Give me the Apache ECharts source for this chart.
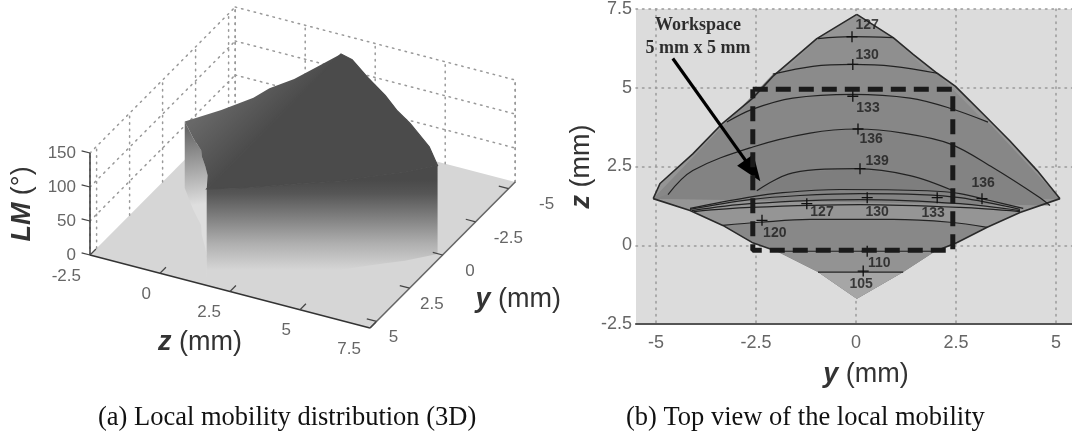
<!DOCTYPE html>
<html><head><meta charset="utf-8">
<style>html,body{margin:0;padding:0;background:#fff}#c{width:1072px;height:439px;filter:blur(0.4px)}</style>
<script src="https://cdn.jsdelivr.net/npm/echarts@6/dist/echarts.min.js"></script>
</head><body><div id="c"></div>
<script>
// ---------- data: region boundary [y, z] in mm ----------
const outlineUpperRight = [[0.02,7.33],[0.93,6.59],[1.43,6.06],[2.03,5.46],[2.48,5.05],[3.28,4.04],[3.85,3.31],[4.53,2.37],[5.1,1.48]];
const outlineUpperLeft  = [[-5.07,1.48],[-4.9,1.96],[-4.08,2.9],[-3.33,3.88],[-2.58,4.67],[-2.08,5.36],[-0.98,6.56],[0.02,7.33]];
const outlineLowerRight = [[5.1,1.48],[4.1,1.04],[3.28,0.57],[2.53,0.09],[1.98,-0.19],[1.18,-0.85],[0.02,-1.7]];
const outlineLowerLeft  = [[0.02,-1.7],[-0.95,-0.85],[-1.98,-0.19],[-2.6,0.09],[-3.33,0.63],[-4.15,1.10],[-5.07,1.48]];
// LM height (deg) along the same boundary points
const lmUpperRight = [130,130,130,131,131,132,132,132,132];
const lmUpperLeft  = [132,132,132,131,131,130,130,130];
const lmLowerRight = [132,128,120,115,110,105,98];
const lmLowerLeft  = [98,105,110,115,120,128,132];
// ---------- data: contour lines [y, z] ----------
const c127 = [[-0.95,6.56],[-0.12,6.62],[0.93,6.59]];
const c130 = [[-2.08,5.43],[-1.08,5.68],[-0.08,5.74],[0.93,5.68],[2.03,5.46]];
const c133 = [[-3.23,3.91],[-2.58,4.32],[-1.58,4.67],[-0.08,4.79],[1.35,4.67],[2.35,4.35],[3.3,3.91]];
const c136 = [[-4.7,1.61],[-4.08,2.37],[-2.58,3.12],[-1.15,3.56],[0.02,3.69],[1.18,3.56],[2.35,3.22],[3.43,2.46],[4.6,1.51],[4.85,1.26]];
const c139 = [[-2.48,1.73],[-1.58,2.3],[0.02,2.43],[1.35,2.21],[2.43,1.73]];
const c136b = [[-4.15,1.17],[-2.73,1.51],[-1.83,1.67],[-0.4,1.77],[1.78,1.73],[2.6,1.64],[3.35,1.42],[4.18,1.17]];
const c133b = [[-4.15,1.14],[-2.65,1.45],[-1.4,1.58],[0.1,1.64],[1.6,1.61],[2.6,1.51],[4.1,1.14]];
const c130b = [[-4.1,1.10],[-2.65,1.32],[0.1,1.45],[2.6,1.32],[4.1,1.10]];
const c127b = [[-4.05,1.07],[-2.65,1.2],[0.1,1.29],[2.6,1.2],[4.1,1.07]];
const c120 = [[-3.33,0.63],[-2.4,0.73],[-1.15,0.82],[0.93,0.82],[2.35,0.73],[3.28,0.57]];
const c110 = [[-1.98,-0.19],[1.98,-0.19]];
const c105 = [[-0.95,-0.85],[1.18,-0.85]];
// ---------- data: contour marks and labels ----------
const plusMarks = [[-0.1,6.62],[-0.08,5.74],[-0.08,4.73],[0.05,3.69],[0.1,2.43],[3.15,1.48],[-1.23,1.32],[0.28,1.51],[2.03,1.51],[-2.35,0.79],[0.28,-0.19],[0.18,-0.82]];
const contourLabels = [[0.28,7.0,'127'],[0.28,6.03,'130'],[0.3,4.35,'133'],[0.38,3.38,'136'],[0.53,2.68,'139'],[3.18,1.96,'136'],[-0.85,1.04,'127'],[0.53,1.04,'130'],[1.93,1.01,'133'],[-2.03,0.38,'120'],[0.58,-0.57,'110'],[0.13,-1.23,'105']];
const workspaceRect = [[-2.58,4.95],[2.42,4.95],[2.42,-0.16],[-2.58,-0.16],[-2.58,4.95]];
const arrowFrom = [-4.58,5.93], arrowTo = [-2.58,2.37];
const workspaceText = [[-3.95,6.99,'Workspace'],[-3.95,6.26,'5 mm x 5 mm']];
// ---------- data: 3D axes ----------
const zTicks3d = [-2.5,0,2.5,5,7.5];
const yTicks3d = [-5,-2.5,0,2.5,5];
const lmTicks3d = [0,50,100,150];
const yTicksTop = [-5,-2.5,0,2.5,5];

// oblique view of the 3D panel: (z, y, LM) -> hidden cartesian plane
const uOf = (z,y) => 28*z - 13.2*y;
const vOf = (z,y,lm) => -(7.3*z + 13.27*y) + 0.68*lm;
const zA = -2.5, zB = 7.5, yA = -5.5, yB = 5.5;
const fontSans = '"Liberation Sans", Arial, sans-serif';
const grey = (a,b,x1,y1,x2,y2) => ({type:'linear',global:true,x:x1,y:y1,x2:x2,y2:y2,colorStops:[{offset:0,color:a},{offset:1,color:b}]});
const wallFront = {type:'linear',global:true,x:0,y:180,x2:0,y2:270,colorStops:[{offset:0,color:'#4a4a4a'},{offset:0.15,color:'#565656'},{offset:0.4,color:'#7d7d7d'},{offset:0.7,color:'#aeaeae'},{offset:1,color:'#d6d6d6'}]};

const scene = [];
const poly = (pts,fill,stroke) => scene.push({k:'poly',pts,fill,stroke});
const seg = (a,b,stroke,w,dash) => scene.push({k:'seg',a,b,stroke,w,dash});
const txt = (p,dx,dy,text,align) => scene.push({k:'txt',p,dx,dy,text,align});
const dotted = (a,b) => seg(a,b,'#999',1.5,[1.5,5]);

poly([[zA,yB,0],[zB,yB,0],[zB,yA,0],[zA,yA,0]],'#d6d6d6');
lmTicks3d.slice(1).forEach(l=>{ dotted([zA,yB,l],[zA,yA,l]); dotted([zA,yA,l],[zB,yA,l]); });
zTicks3d.forEach(z=>dotted([z,yA,0],[z,yA,150]));
[5,2.5,0,-2.5,-5].forEach(y=>dotted([zA,y,0],[zA,y,150]));
dotted([zA,yB,0],[zA,yB,150]); dotted([zA,yA,0],[zA,yA,150]); dotted([zB,yA,0],[zB,yA,150]);

const toP = (arr,lm) => arr.map((p,i)=>[p[1],p[0],lm[i]]);
const floorOf = arr => arr.map(p=>[p[1],p[0],0]);
// left-hand wall, front wall, then the two roof faces
const lowR = toP(outlineLowerRight,lmLowerRight);
poly(lowR.concat(floorOf(outlineLowerRight).reverse()), grey('#686868','#dedede',186,130,196,205));
const upR = toP(outlineUpperRight,lmUpperRight);
poly(upR.concat(floorOf(outlineUpperRight).reverse()), wallFront);
poly(lowR.concat(toP(outlineLowerLeft,lmLowerLeft).slice(1)), grey('#686868','#4c4c4c',190,125,230,165));
poly(upR.concat(toP(outlineUpperLeft,lmUpperLeft).slice(0,-1)), '#4b4b4b','#4b4b4b');

seg([zA,yB,0],[zB,yB,0],'#333',1.6);
seg([zB,yB,0],[zB,yA,0],'#666',1.6);
seg([zA,yB,0],[zA,yB,150],'#444',1.6);
zTicks3d.forEach(z=>{ seg([z,yB,0],[z,yB-0.45,0],'#444',1.2);
  txt([z,yB,0],-9,21,String(z),'right'); });
yTicks3d.forEach(y=>{ seg([zB,y,0],[zB-0.35,y,0],'#444',1.2);
  txt([zB,y,0],17+(5-y)*2.1,16,String(y),'center'); });
lmTicks3d.forEach(l=>{ seg([zA,yB,l],[zA-0.3,yB,l],'#444',1.2);
  txt([zA,yB,l],-14,0,String(l),'right'); });

// axis names of the 3D panel
scene.push({k:'name',z:1.5,y:yB,dx:-2,dy:58,text:'{i|z} (mm)',rot:0});
scene.push({k:'name',z:zB,y:-0.2,dx:73,dy:47,text:'{i|y} (mm)',rot:0});
scene.push({k:'name',z:zA,y:yB,lm:75,dx:-67,dy:0,text:'{i|LM} (°)',rot:Math.PI/2});

function render3d(params, api){
  const it = scene[params.dataIndex];
  const P = p => api.coord([uOf(p[0],p[1]), vOf(p[0],p[1],p[2])]);
  if(it.k==='poly') return {type:'polygon',shape:{points:it.pts.map(P)},style:{fill:it.fill,stroke:it.stroke||null,lineWidth:1.2}};
  if(it.k==='seg'){ const a=P(it.a),b=P(it.b);
    return {type:'line',shape:{x1:a[0],y1:a[1],x2:b[0],y2:b[1]},style:{stroke:it.stroke,lineWidth:it.w,lineDash:it.dash||null,lineCap:it.dash?'round':'butt',fill:null}}; }
  if(it.k==='txt'){ const a=P(it.p);
    return {type:'text',x:a[0]+it.dx,y:a[1]+it.dy,style:{text:it.text,fill:'#666',font:'17px '+fontSans,align:it.align,verticalAlign:'middle'}}; }
  const a=P([it.z,it.y,it.lm||0]);
  return {type:'text',x:a[0]+it.dx,y:a[1]+it.dy,rotation:it.rot,style:{text:it.text,fill:'#333',
    fontSize:27,fontFamily:fontSans,align:'center',verticalAlign:'middle',
    rich:{i:{fontStyle:'italic',fontWeight:'bold',fontSize:27,fontFamily:fontSans,fill:'#333'}}}};
}

// top-view filled bands
const tipL = [-5.07,1.48], tipR = [5.1,1.48];
const bands = [
 {pts:outlineUpperRight.concat(outlineLowerRight.slice(1),outlineLowerLeft.slice(1),outlineUpperLeft.slice(1)),fill:'#959595'},
 {pts:c127.concat([tipR,tipL]),fill:'#8f8f8f'},
 {pts:c130.concat([tipR,tipL]),fill:'#8b8b8b'},
 {pts:c133.concat([tipR,tipL]),fill:'#878787'},
 {pts:c136.concat([tipL]),fill:'#838383'},
 {pts:c139,fill:'#7e7e7e'},
 {pts:c120.concat(outlineLowerRight.slice(3),outlineLowerLeft.slice(1,5)),fill:'#888888'},
 {pts:c110.concat(outlineLowerRight.slice(5),outlineLowerLeft.slice(1,2)),fill:'#939393'},
 {pts:c105.concat(outlineLowerRight.slice(6)),fill:'#a6a6a6'}
];
const renderBand = (params,api)=>({type:'polygon',shape:{points:bands[params.dataIndex].pts.map(p=>api.coord(p))},style:{fill:bands[params.dataIndex].fill,stroke:null}});

const contourSeries = [c127,c130,c133,c136,c139,c136b,c133b,c130b,c127b,c120,c110,c105].map(d=>({
  type:'line',xAxisIndex:0,yAxisIndex:0,data:d,showSymbol:false,smooth:0.35,silent:true,z:4,
  lineStyle:{color:'#222',width:1.2}}));
const edge = d=>({type:'line',xAxisIndex:0,yAxisIndex:0,data:d,showSymbol:false,silent:true,z:4,lineStyle:{color:'#2a2a2a',width:1.6}});
const captionStyle = {fontFamily:'"Liberation Serif"',fontWeight:'normal',fontSize:26.5,color:'#111'};

const option = {
  animation:false, backgroundColor:'#fff',
  title:[
    {text:'(a) Local mobility distribution (3D)',left:98,top:405,padding:0,textStyle:captionStyle},
    {text:'(b) Top view of the local mobility',left:626,top:405,padding:0,textStyle:captionStyle}
  ],
  grid:[
    {left:636,top:7,width:436,height:317,show:true,backgroundColor:'#dcdcdc',borderWidth:0},
    {left:0,top:0,width:561,height:356,show:false}
  ],
  xAxis:[
    {type:'value',gridIndex:0,min:-5.5,max:5.4,
     axisLine:{show:true,onZero:false,lineStyle:{color:'#555',width:2}},
     axisTick:{show:false,customValues:yTicksTop},
     axisLabel:{customValues:yTicksTop,color:'#666',fontSize:18,fontFamily:fontSans,margin:10,hideOverlap:false},
     splitLine:{show:true,lineStyle:{color:'#999',width:1.5,type:[1.5,5],cap:'round'}},
     name:'{i|y} (mm)',nameLocation:'middle',nameGap:37,
     nameTextStyle:{color:'#333',fontSize:27,fontFamily:fontSans,padding:[0,0,0,24],rich:{i:{fontStyle:'italic',fontWeight:'bold',fontSize:27,fontFamily:fontSans,color:'#333'}}}},
    {type:'value',gridIndex:1,min:-232.6,max:328.4,show:false}
  ],
  yAxis:[
    {type:'value',gridIndex:0,min:-2.5,max:7.5,interval:2.5,
     axisLine:{show:false},axisTick:{show:false},
     axisLabel:{color:'#666',fontSize:18,fontFamily:fontSans,margin:4},
     splitLine:{show:true,lineStyle:{color:'#999',width:1.5,type:[1.5,5],cap:'round'}},
     name:'{i|z} (mm)',nameLocation:'middle',nameGap:41,nameRotate:90,
     nameTextStyle:{color:'#333',fontSize:27,fontFamily:fontSans,rich:{i:{fontStyle:'italic',fontWeight:'bold',fontSize:27,fontFamily:fontSans,color:'#333'}}}},
    {type:'value',gridIndex:1,min:-155.75,max:200.25,show:false}
  ],
  series:[
    {type:'custom',xAxisIndex:0,yAxisIndex:0,renderItem:renderBand,data:bands.map((_,i)=>[i]),silent:true,z:3,clip:false},
    edge(outlineUpperRight), edge(outlineUpperLeft),
    edge(outlineLowerRight.slice(0,5)), edge(outlineLowerLeft.slice(2)),
    ...contourSeries,
    {type:'scatter',xAxisIndex:0,yAxisIndex:0,data:plusMarks,silent:true,z:5,symbolSize:11,
     symbol:'path://M4.4 0h1.2v4.4h4.4v1.2h-4.4v4.4h-1.2v-4.4h-4.4v-1.2h4.4z',itemStyle:{color:'#111',opacity:1}},
    {type:'scatter',xAxisIndex:0,yAxisIndex:0,data:contourLabels,silent:true,z:5,symbolSize:0,
     label:{show:true,position:'inside',formatter:p=>p.data[2],color:'#1c1c1c',fontWeight:'bold',fontSize:14,fontFamily:fontSans}},
    {type:'scatter',xAxisIndex:0,yAxisIndex:0,data:workspaceText,silent:true,z:7,symbolSize:0,
     label:{show:true,position:'inside',formatter:p=>p.data[2],color:'#000',fontWeight:'bold',fontSize:18,fontFamily:'"Liberation Serif"'}},
    {type:'line',xAxisIndex:0,yAxisIndex:0,data:workspaceRect,showSymbol:false,silent:true,z:6,
     lineStyle:{color:'#1a1a1a',width:5,type:[15,8]},
     markLine:{silent:true,animation:false,symbol:['none','triangle'],symbolSize:[20,26],
       lineStyle:{color:'#000',width:3.2,type:'solid'},label:{show:false},
       data:[[{coord:arrowFrom},{coord:arrowTo}]]}},
    {type:'custom',xAxisIndex:1,yAxisIndex:1,renderItem:render3d,data:scene.map((_,i)=>[i]),silent:true,clip:true,z:3}
  ]
};
const chart = echarts.init(document.getElementById('c'),null,{renderer:'canvas'});
chart.setOption(option);
</script></body></html>
